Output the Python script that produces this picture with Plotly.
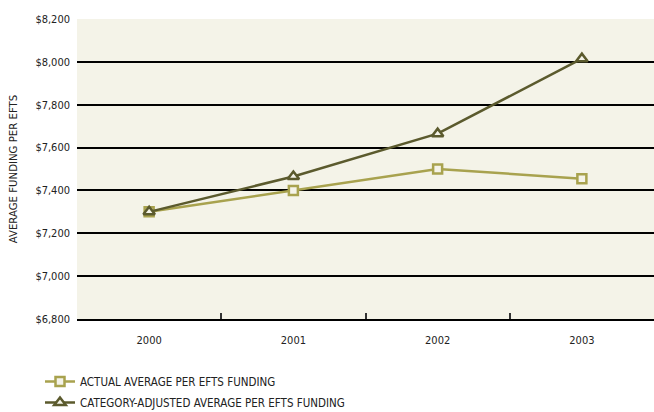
import plotly.graph_objects as go

years = ["2000", "2001", "2002", "2003"]
actual = [7300, 7400, 7500, 7455]
adjusted = [7300, 7465, 7665, 8015]
y_ticks = [6800, 7000, 7200, 7400, 7600, 7800, 8000, 8200]
y_tick_labels = ["$6,800", "$7,000", "$7,200", "$7,400", "$7,600", "$7,800", "$8,000", "$8,200"]

FONT = "DejaVu Sans Condensed, sans-serif"
light = "#a8a24e"
dark = "#5b5a2d"

fig = go.Figure()
fig.add_trace(go.Scatter(
    x=years, y=actual, mode="lines+markers", name="ACTUAL AVERAGE PER EFTS FUNDING",
    legendgroup="a",
    line=dict(color=light, width=2.5),
    marker=dict(symbol="square", size=9, color="#f4f3e8", line=dict(color=light, width=2.5)),
))
fig.add_trace(go.Scatter(
    x=years, y=adjusted, mode="lines+markers", name="CATEGORY-ADJUSTED AVERAGE PER EFTS FUNDING",
    legendgroup="b",
    line=dict(color=dark, width=2.5),
    marker=dict(symbol="triangle-up", size=10, color="#f4f3e8", line=dict(color=dark, width=2.5)),
))

fig.update_layout(
    width=654, height=412,
    margin=dict(l=77, r=0, t=19, b=93, autoexpand=False),
    paper_bgcolor="white", plot_bgcolor="#f4f3e8",
    font=dict(family=FONT, size=11, color="#222222"),
    showlegend=True,
    legend=dict(x=(40 - 77) / 577, y=-(367 - 319) / 300,
                xanchor="left", yanchor="top",
                bgcolor="rgba(0,0,0,0)", font=dict(size=11.5, family=FONT),
                tracegroupgap=2, itemwidth=30),
    xaxis=dict(
        type="category", range=[-0.5, 3.5], showgrid=False,
        showline=True, linecolor="black", linewidth=1.5,
        ticks="inside", tickson="boundaries", ticklen=6, tickcolor="#333333", tickwidth=1.5,
        tickfont=dict(size=11, family=FONT), ticklabelstandoff=10,
    ),
    yaxis=dict(
        range=[6800, 8200], tickvals=y_ticks, ticktext=y_tick_labels,
        showgrid=True, gridcolor="black", gridwidth=1.5, zeroline=False,
        showline=False, ticks="", tickfont=dict(size=11, family=FONT), ticklabelstandoff=6,
        title=dict(text="AVERAGE FUNDING PER EFTS", font=dict(size=11.3, family=FONT)),
    ),
)

fig.write_html("out.html")
